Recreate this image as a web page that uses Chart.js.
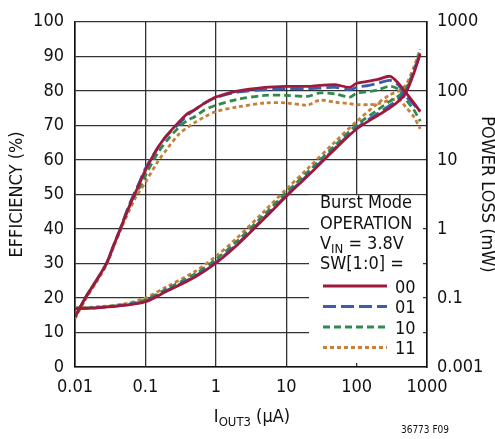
<!DOCTYPE html>
<html>
<head>
<meta charset="utf-8">
<script src="https://cdn.jsdelivr.net/npm/chart.js@4/dist/chart.umd.min.js"></script>
<style>
html, body { margin: 0; padding: 0; background: #fff; }
</style>
</head>
<body>
<canvas id="chart" width="495" height="439"></canvas>
<script>
// ---- data ----
const seriesNames = ['00', '01', '10', '11'];
const seriesColors = ['#9e1a3c', '#3b5daa', '#2f8a4c', '#c87f3a'];
const seriesDash = [[], [13, 5], [7, 4], [4, 3]];

const xTicks = [0.01, 0.1, 1, 10, 100, 1000];
const xTickLabels = ['0.01', '0.1', '1', '10', '100', '1000'];
const y2Ticks = [0.01, 0.1, 1, 10, 100, 1000];
const y2TickLabels = ['0.001', '0.1', '1', '10', '100', '1000'];

// efficiency (%)
const effX = [0.01, 0.014, 0.02, 0.028, 0.035, 0.044, 0.055, 0.07, 0.08, 0.1,
              0.15, 0.2, 0.3, 0.4, 0.5, 0.7, 1, 2, 5, 10, 20, 30, 50, 80, 100,
              150, 200, 300, 400, 500, 650, 800];
const eff00 = [14.5, 20, 25, 30, 35, 40, 45, 50, 52.5, 57,
               63.5, 67, 71, 73.5, 74.5, 76.5, 78.2, 79.9, 81, 81.3, 81.3, 81.6, 81.8, 81, 82.2,
               82.8, 83.3, 84.2, 82, 79.5, 76.5, 74];
const eff01 = [14.5, 20, 25, 30, 35, 40, 45.5, 50.5, 53, 57.5,
               63.5, 67, 70.5, 73, 74.5, 76.5, 78, 79.6, 80.3, 80.6, 80.6, 80.8, 81, 80.3, 81,
               81.6, 82.2, 83, 81.5, 78.5, 76, 74];
const eff10 = [14.5, 20, 25, 30, 35, 40, 45, 49.5, 51.5, 55.5,
               62, 65.5, 69.5, 71.5, 72.5, 74.5, 75.8, 77.5, 78.7, 78.7, 78.4, 79.4, 79.1, 78.2, 79.3,
               79.8, 80.3, 81.3, 80.3, 77.5, 74.5, 71.2];
const eff11 = [14, 19.5, 24.5, 29.5, 34.5, 39.5, 44, 48.5, 50.5, 53.5,
               59.5, 63, 67.5, 69.5, 70.8, 72.5, 74, 75.3, 76.5, 76.5, 75.9, 77.3, 76.7, 76.3, 76,
               76, 76.2, 77.3, 77.5, 75.3, 72.5, 69];

// power loss (mW)
const lossX = [0.01, 0.02, 0.05, 0.1, 0.2, 0.5, 1, 2, 5, 10, 20, 50, 100, 200, 300, 400, 500, 650, 800];
const loss00 = [0.070, 0.072, 0.078, 0.088, 0.125, 0.20, 0.32, 0.58, 1.45, 2.95, 5.8, 14.5, 28, 44, 57, 72, 93, 180, 340];
const loss01 = [0.070, 0.072, 0.079, 0.090, 0.128, 0.205, 0.33, 0.60, 1.5, 3.05, 6.0, 15, 29, 47, 62, 77, 98, 188, 350];
const loss10 = [0.071, 0.073, 0.080, 0.094, 0.135, 0.22, 0.36, 0.66, 1.65, 3.35, 6.6, 16.3, 32, 53, 71, 85, 106, 198, 365];
const loss11 = [0.072, 0.074, 0.082, 0.100, 0.145, 0.24, 0.40, 0.74, 1.85, 3.75, 7.4, 18.5, 36, 66, 88, 100, 122, 220, 400];

const effSeries = [eff00, eff01, eff10, eff11];
const lossSeries = [loss00, loss01, loss10, loss11];

const FONT = "'Liberation Sans Narrow', 'DejaVu Sans Condensed', 'Roboto', sans-serif";

function pts(xs, ys) {
    return xs.map((x, i) => ({ x: x, y: ys[i] }));
}

let datasets = [];
seriesNames.forEach((name, i) => {
    datasets.push({
        label: name + ' eff',
        data: pts(effX, effSeries[i]),
        yAxisID: 'y',
        borderColor: seriesColors[i],
        borderDash: seriesDash[i],
        borderWidth: 2.8,
        pointRadius: 0,
        tension: 0.3,
        fill: false
    });
    datasets.push({
        label: name + ' loss',
        data: pts(lossX, lossSeries[i]),
        yAxisID: 'y2',
        borderColor: seriesColors[i],
        borderDash: seriesDash[i],
        borderWidth: 2.8,
        pointRadius: 0,
        tension: 0.3,
        fill: false
    });
});

// text with a subscript part
function drawSub(ctx, parts, x, y, align) {
    let w = 0;
    parts.forEach(p => { ctx.font = p.size + 'px ' + FONT; w += ctx.measureText(p.t).width; });
    let cx = align === 'center' ? x - w / 2 : x;
    ctx.textAlign = 'left';
    ctx.textBaseline = 'alphabetic';
    parts.forEach(p => {
        ctx.font = p.size + 'px ' + FONT;
        ctx.fillText(p.t, cx, y + (p.dy || 0));
        cx += ctx.measureText(p.t).width;
    });
}

const decor = {
    id: 'decor',
    beforeDatasetsDraw(chart) {
        const ca = chart.chartArea;
        const ctx = chart.ctx;
        const top = chart.scales.y.getPixelForValue(50) + 1;
        ctx.save();
        ctx.fillStyle = '#fff';
        ctx.fillRect(ca.right - 118, top, 114, ca.bottom - 4 - top);
        ctx.restore();
    },
    afterDraw(chart) {
        const ctx = chart.ctx;
        const ca = chart.chartArea;
        const midY = (ca.top + ca.bottom) / 2;
        ctx.save();
        ctx.fillStyle = '#111';

        // axis titles
        ctx.font = '18px ' + FONT;
        ctx.textAlign = 'center';
        ctx.textBaseline = 'middle';
        ctx.save();
        ctx.translate(17, midY);
        ctx.rotate(-Math.PI / 2);
        ctx.fillText('EFFICIENCY (%)', 0, 0);
        ctx.restore();
        ctx.save();
        ctx.translate(487, midY);
        ctx.rotate(Math.PI / 2);
        ctx.fillText('POWER LOSS (mW)', 0, 0);
        ctx.restore();

        drawSub(ctx, [{ t: 'I', size: 18 }, { t: 'OUT3', size: 13, dy: 4 }, { t: ' (µA)', size: 18 }],
            252, 422, 'center');

        ctx.font = '10px ' + FONT;
        ctx.textAlign = 'center';
        ctx.textBaseline = 'middle';
        ctx.fillText('36773 F09', 425, 430);

        // legend block
        const lx = ca.right - 107;
        drawSub(ctx, [{ t: 'Burst Mode', size: 18 }], lx, 208);
        drawSub(ctx, [{ t: 'OPERATION', size: 18 }], lx, 229);
        drawSub(ctx, [{ t: 'V', size: 18 }, { t: 'IN', size: 13, dy: 4 }, { t: ' = 3.8V', size: 18 }], lx, 249);
        drawSub(ctx, [{ t: 'SW[1:0] =', size: 18 }], lx, 269);

        const rowY = [286, 306.5, 327, 347.5];
        seriesNames.forEach((name, i) => {
            ctx.strokeStyle = seriesColors[i];
            ctx.lineWidth = 2.8;
            ctx.setLineDash(seriesDash[i]);
            ctx.beginPath();
            ctx.moveTo(lx + 3, rowY[i]);
            ctx.lineTo(lx + 67, rowY[i]);
            ctx.stroke();
            ctx.setLineDash([]);
            ctx.font = '18px ' + FONT;
            ctx.textAlign = 'left';
            ctx.textBaseline = 'middle';
            ctx.fillText(name, lx + 75, rowY[i] + 2);
        });
        ctx.restore();
    }
};

new Chart(document.getElementById('chart').getContext('2d'), {
    type: 'line',
    data: { datasets: datasets },
    plugins: [decor],
    options: {
        responsive: false,
        animation: false,
        layout: { padding: { top: 16, left: 0, right: 0, bottom: 0 } },
        plugins: { legend: { display: false }, tooltip: { enabled: false } },
        scales: {
            x: {
                type: 'logarithmic',
                min: 0.01,
                max: 1000,
                afterBuildTicks: s => { s.ticks = xTicks.map(v => ({ value: v })); },
                afterFit: s => { s.height = 72; },
                grid: { color: '#333', lineWidth: 1.3, drawTicks: false },
                border: { color: '#111', width: 1.6 },
                ticks: {
                    padding: 10,
                    color: '#111',
                    font: { family: FONT, size: 18 },
                    maxRotation: 0,
                    autoSkip: false,
                    callback: (v, i) => xTickLabels[i]
                }
            },
            y: {
                type: 'linear',
                position: 'left',
                min: 0,
                max: 100,
                afterFit: s => { s.width = 75; },
                grid: { color: '#333', lineWidth: 1.3, drawTicks: false },
                border: { color: '#111', width: 1.6 },
                ticks: {
                    stepSize: 10,
                    padding: 11,
                    color: '#111',
                    font: { family: FONT, size: 18 }
                }
            },
            y2: {
                type: 'logarithmic',
                position: 'right',
                min: 0.01,
                max: 1000,
                afterBuildTicks: s => { s.ticks = y2Ticks.map(v => ({ value: v })); },
                afterFit: s => { s.width = 68; },
                grid: { display: false, drawTicks: false },
                border: { color: '#111', width: 1.6 },
                ticks: {
                    padding: 10,
                    color: '#111',
                    font: { family: FONT, size: 18 },
                    autoSkip: false,
                    callback: (v, i) => y2TickLabels[i]
                }
            }
        }
    }
});
</script>
</body>
</html>
